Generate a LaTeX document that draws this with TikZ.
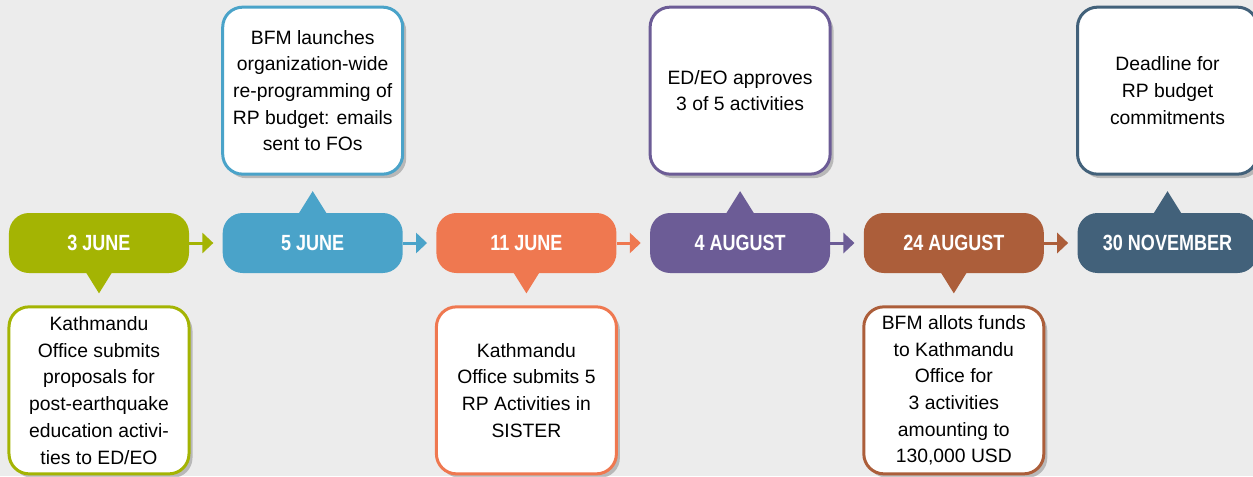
\documentclass[tikz,border=0pt]{standalone}
\usepackage{fontspec}
\setmainfont{Liberation Sans}
\newfontfamily\datefont{Liberation Sans}[FakeStretch=0.82]
\usetikzlibrary{positioning,arrows.meta,shadows}

\definecolor{cbg}{RGB}{236,236,236}
\definecolor{cgreen}{RGB}{164,180,3}
\definecolor{cblue}{RGB}{74,163,201}
\definecolor{corange}{RGB}{239,120,80}
\definecolor{cpurple}{RGB}{108,92,150}
\definecolor{cbrown}{RGB}{172,94,58}
\definecolor{cslate}{RGB}{66,97,122}

\tikzset{
	timeline/.style = {
		node distance = 6.6mm,
		arrow/.style = {
			draw,
			line width = 0.6mm,
			-{Triangle[width=4mm, length=2.2mm]},
			shorten >= 1.8mm,
		}
	},
	datebox/.style = {
		rectangle,
		rounded corners = 4mm,
		minimum width = 36mm,
		minimum height = 12mm,
		text = white,
		font = \datefont\bfseries\fontsize{12.5}{14}\selectfont
	},
	notebox/.style = {
		rectangle,
		rounded corners = 4mm,
		line width = 0.6mm,
		fill = white,
		minimum width = 36mm,
		minimum height = 33.4mm,
		inner sep = 2pt,
		align = center,
		font = \fontsize{11}{15.2}\selectfont,
		drop shadow = {shadow xshift = 0.7mm, shadow yshift = -0.8mm, opacity = 0.22, fill = black}
	}
}

\begin{document}
\begin{tikzpicture}[timeline]
	\useasboundingbox[fill=cbg] (-19.8mm,48.6mm) rectangle (230.8mm,-46.6mm);

	\node[datebox, fill=cgreen] (jun3) {3 JUNE};
	\node[datebox, fill=cblue, right = of jun3] (jun5) {5 JUNE};
	\node[datebox, fill=corange, right = of jun5] (jun11) {11 JUNE};
	\node[datebox, fill=cpurple, right = of jun11] (aug4) {4 AUGUST};
	\node[datebox, fill=cbrown, right = of aug4] (aug24) {24 AUGUST};
	\node[datebox, fill=cslate, right = of aug24] (nov30) {30 NOVEMBER};

	\node[notebox, draw=cgreen, below = 6.4mm of jun3] (jun3-note)
		{Kathmandu\\Office submits\\proposals for\\post-earthquake\\education activi-\\ties to ED/EO};
	\node[notebox, draw=cblue, above = 7.4mm of jun5] (jun5-note)
		{BFM launches\\organization-wide\\re-programming of\\RP budget: emails\\sent to FOs};
	\node[notebox, draw=corange, below = 6.4mm of jun11] (jun11-note)
		{Kathmandu\\Office submits 5\\RP Activities in\\SISTER};
	\node[notebox, draw=cpurple, above = 7.4mm of aug4] (aug4-note)
		{ED/EO approves\\3 of 5 activities};
	\node[notebox, draw=cbrown, below = 6.4mm of aug24] (aug24-note)
		{BFM allots funds\\to Kathmandu\\Office for\\3 activities\\amounting to\\130,000 USD};
	\node[notebox, draw=cslate, above = 7.4mm of nov30] (nov30-note)
		{Deadline for\\RP budget\\commitments};

	% pointers towards the notes
	\fill[cgreen] ([xshift=-2.8mm, yshift=0.5mm]jun3.south) -- ([xshift=2.8mm, yshift=0.5mm]jun3.south) -- ([yshift=-4mm]jun3.south) -- cycle;
	\fill[cblue] ([xshift=-3mm, yshift=-0.5mm]jun5.north) -- ([xshift=3mm, yshift=-0.5mm]jun5.north) -- ([yshift=4.3mm]jun5.north) -- cycle;
	\fill[corange] ([xshift=-2.8mm, yshift=0.5mm]jun11.south) -- ([xshift=2.8mm, yshift=0.5mm]jun11.south) -- ([yshift=-4mm]jun11.south) -- cycle;
	\fill[cpurple] ([xshift=-3mm, yshift=-0.5mm]aug4.north) -- ([xshift=3mm, yshift=-0.5mm]aug4.north) -- ([yshift=4.3mm]aug4.north) -- cycle;
	\fill[cbrown] ([xshift=-2.8mm, yshift=0.5mm]aug24.south) -- ([xshift=2.8mm, yshift=0.5mm]aug24.south) -- ([yshift=-4mm]aug24.south) -- cycle;
	\fill[cslate] ([xshift=-3mm, yshift=-0.5mm]nov30.north) -- ([xshift=3mm, yshift=-0.5mm]nov30.north) -- ([yshift=4.3mm]nov30.north) -- cycle;

	\begin{scope}[every path/.style = arrow]
		\path[draw=cgreen, fill=cgreen] (jun3) to (jun5);
		\path[draw=cblue, fill=cblue] (jun5) to (jun11);
		\path[draw=corange, fill=corange] (jun11) to (aug4);
		\path[draw=cpurple, fill=cpurple] (aug4) to (aug24);
		\path[draw=cbrown, fill=cbrown] (aug24) to (nov30);
	\end{scope}
\end{tikzpicture}
\end{document}
